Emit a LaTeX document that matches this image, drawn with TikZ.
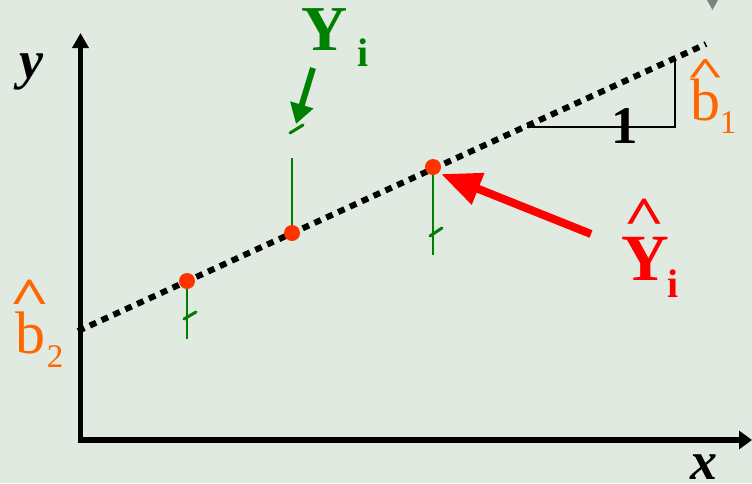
\documentclass[tikz,border=0pt]{standalone}
\usepackage{fontspec}
\setmainfont{Liberation Serif}
\usetikzlibrary{arrows.meta}
\definecolor{bg}{RGB}{224,234,224}
\definecolor{grn}{RGB}{0,128,0}
\definecolor{dotred}{RGB}{255,51,0}
\definecolor{orng}{RGB}{255,102,0}
\definecolor{arrred}{RGB}{255,0,0}
\begin{document}
\begin{tikzpicture}[x=1pt,y=-1pt,
  pt/.style={circle,fill=dotred,minimum size=16pt,inner sep=0pt},
  resid/.style={draw=grn,line width=2pt},
  tick/.style={draw=grn,line width=3pt,line cap=round},
  lbl/.style={inner sep=0pt,anchor=base},
  fs/.style={font=\fontsize{#1}{#1}\selectfont}
]
\fill[bg] (0,0) rectangle (752,483);
\useasboundingbox (0,0) rectangle (752,483);
% gray marker top right
\fill[gray] (707,0) -- (718,0) -- (712.5,10) -- cycle;
% axes
\coordinate (ybot) at (80.5,442);
\coordinate (ytop) at (80.5,33);
\coordinate (xbeg) at (78,440);
\coordinate (xend) at (752,440);
\draw[line width=5pt,-{Triangle[length=15pt,width=16pt]}] (ybot) -- (ytop);
\draw[line width=6pt,-{Triangle[length=13pt,width=18pt]}] (xbeg) -- (xend);
% points
\coordinate (c1) at (187,281);
\coordinate (c2) at (292,233);
\coordinate (c3) at (433,167);
% residuals
\coordinate (r1) at (187,339);
\coordinate (r2) at (292,158);
\coordinate (r3) at (433,255);
\draw[resid] (c1) -- (r1);
\draw[resid] (r2) -- (c2);
\draw[resid] (c3) -- (r3);
\coordinate (t1a) at (184,319); \coordinate (t1b) at (196,312);
\coordinate (t3a) at (430,236); \coordinate (t3b) at (442,228);
\draw[tick] (t1a) -- (t1b);
\draw[tick] (t3a) -- (t3b);
% fitted line
\coordinate (L0) at (78,331);
\coordinate (L1) at (706,44);
\draw[line width=6pt,dash pattern=on 7pt off 6pt] (L0) -- (L1);
% slope triangle
\coordinate (s0) at (527,127);
\coordinate (s1) at (675,127);
\coordinate (s2) at (675,58);
\draw[line width=2pt] (s0) -- (s1) -- (s2);
\node[lbl,fs=53] (one) at (625,143) {\textbf{1}};
% dots
\node[pt] (p1) at (c1) {};
\node[pt] (p2) at (c2) {};
\node[pt] (p3) at (c3) {};
% green arrow to Y_i
\coordinate (ga0) at (313,68);
\coordinate (ga1) at (296,124);
\draw[grn,line width=6pt,-{Triangle[length=20pt,width=23pt]}] (ga0) -- (ga1);
\coordinate (gt0) at (290,133); \coordinate (gt1) at (303,125);
\draw[tick] (gt0) -- (gt1);
% red arrow to Yhat_i
\coordinate (ra0) at (591,234);
\coordinate (ra1) at (441,174);
\draw[arrred,line width=8pt,-{Triangle[length=40pt,width=32pt]}] (ra0) -- (ra1);
% labels
\node[lbl,fs=64,text=grn] (Yi) at (325,50) {\textbf{Y}};
\node[lbl,fs=40,text=grn] (Yii) at (363,66) {\textbf{i}};
\node[lbl,fs=72,text=arrred] (Yh) at (644,234) {\scalebox{1}[0.75]{\textbf{\textasciicircum}}};
\node[lbl,fs=66,text=arrred] (Yr) at (645,280) {\textbf{Y}};
\node[lbl,fs=40,text=arrred] (Yri) at (673,297) {\textbf{i}};
\node[lbl,fs=66,text=orng] (b1h) at (706,85) {\scalebox{1}[0.6]{\textbf{\textasciicircum}}};
\node[lbl,fs=60,text=orng] (b1) at (705,120) {b};
\node[lbl,fs=33,text=orng] (b1s) at (728,133) {1};
\node[lbl,fs=70,text=orng] (b2h) at (30,314) {\scalebox{1}[0.75]{\textbf{\textasciicircum}}};
\node[lbl,fs=60,text=orng] (b2) at (31,353) {b};
\node[lbl,fs=33,text=orng] (b2s) at (55,367) {2};
\node[lbl,fs=54] (ylab) at (32,78) {\textbf{\textit{y}}};
\node[lbl,fs=54] (xlab) at (704,479) {\textbf{\textit{x}}};
\end{tikzpicture}
\end{document}
